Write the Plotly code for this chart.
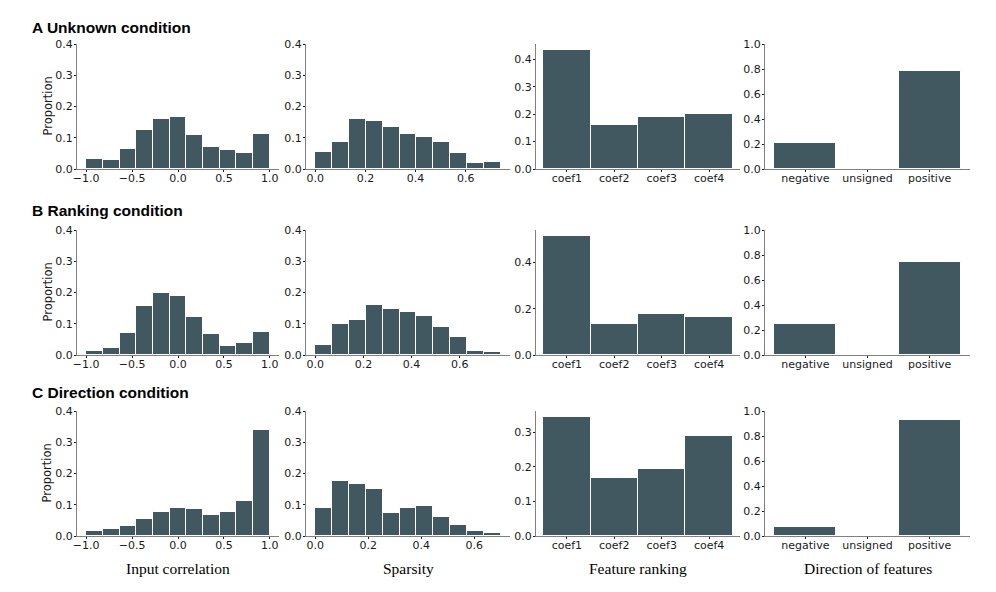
import numpy as np
import plotly.graph_objects as go

# ---------------- data ----------------
row_titles = ["A Unknown condition", "B Ranking condition", "C Direction condition"]
col_xlabels = ["Input correlation", "Sparsity", "Feature ranking", "Direction of features"]

corr_range = (-1.0, 1.0)
corr_A = [0.032, 0.028, 0.064, 0.126, 0.160, 0.168, 0.109, 0.072, 0.060, 0.051, 0.112]
corr_B = [0.013, 0.021, 0.071, 0.157, 0.200, 0.189, 0.123, 0.067, 0.029, 0.037, 0.075]
corr_C = [0.016, 0.023, 0.033, 0.053, 0.078, 0.090, 0.085, 0.067, 0.078, 0.111, 0.339]

spars_range_A = (0.0, 0.74)
spars_range_B = (0.0, 0.77)
spars_range_C = (0.0, 0.70)
spars_A = [0.053, 0.087, 0.161, 0.154, 0.134, 0.113, 0.101, 0.086, 0.051, 0.018, 0.023]
spars_B = [0.031, 0.099, 0.111, 0.160, 0.147, 0.139, 0.124, 0.089, 0.059, 0.014, 0.011]
spars_C = [0.091, 0.177, 0.168, 0.151, 0.075, 0.090, 0.095, 0.062, 0.034, 0.017, 0.009]

coef_labels = ["coef1", "coef2", "coef3", "coef4"]
rank_A = [0.435, 0.162, 0.190, 0.202]
rank_B = [0.515, 0.133, 0.178, 0.163]
rank_C = [0.344, 0.169, 0.195, 0.288]

dir_labels = ["negative", "unsigned", "positive"]
dir_A = [0.205, 0.0, 0.787]
dir_B = [0.251, 0.0, 0.741]
dir_C = [0.070, 0.0, 0.928]

corr_ticks = [-1.0, -0.5, 0.0, 0.5, 1.0]
spars_ticks = [0.0, 0.2, 0.4, 0.6]
hist_yticks = [0.0, 0.1, 0.2, 0.3, 0.4]
dir_yticks = [0.0, 0.2, 0.4, 0.6, 0.8, 1.0]
rank_yticks = [[0.0, 0.1, 0.2, 0.3, 0.4], [0.0, 0.2, 0.4], [0.0, 0.1, 0.2, 0.3]]

# ---------------- style / layout ----------------
W, H = 996, 592
BAR = "#415861"
AX = "#808080"
TXT = "#1a1a1a"
TICKFONT = dict(family="DejaVu Sans", size=11, color=TXT)

col_px = [(77, 279), (306, 510), (536, 740), (765, 970)]
row_px = [(44, 169), (230, 355), (411, 536)]
title_y = [28, 211, 392]
xlabel_y = 568

fig = go.Figure()
layout = dict(width=W, height=H, margin=dict(l=0, r=0, t=0, b=0),
              paper_bgcolor="white", plot_bgcolor="white", showlegend=False,
              bargap=0, annotations=[])

corr_sets = [corr_A, corr_B, corr_C]
spars_sets = [spars_A, spars_B, spars_C]
spars_ranges = [spars_range_A, spars_range_B, spars_range_C]
rank_sets = [rank_A, rank_B, rank_C]
dir_sets = [dir_A, dir_B, dir_C]


def hist_bar(vals, lo, hi, k):
    edges = np.linspace(lo, hi, len(vals) + 1)
    centers = (edges[:-1] + edges[1:]) / 2
    w = edges[1] - edges[0]
    return go.Bar(x=centers, y=vals, width=w, marker=dict(color=BAR, line=dict(color="white", width=1)),
                  xaxis=f"x{k}", yaxis=f"y{k}", hoverinfo="skip")


def cat_bar(vals, k):
    return go.Bar(x=list(range(len(vals))), y=vals, width=1.0,
                  marker=dict(color=BAR, line=dict(color="white", width=1)),
                  xaxis=f"x{k}", yaxis=f"y{k}", hoverinfo="skip")


def axis_common(is_x):
    return dict(showline=True, linecolor=AX, linewidth=1, ticks="outside", ticklen=2,
                tickwidth=0.8, tickcolor=TXT, tickfont=TICKFONT, showgrid=False, zeroline=False,
                fixedrange=True, automargin=False, ticklabelstandoff=(-3 if is_x else -1))


for r in range(3):
    y0, y1 = row_px[r]
    ydom = [1 - y1 / H, 1 - y0 / H]
    for c in range(4):
        k = r * 4 + c + 1
        x0, x1 = col_px[c]
        xdom = [x0 / W, x1 / W]
        xa = axis_common(True)
        ya = axis_common(False)
        xa.update(domain=xdom, anchor=f"y{k}")
        ya.update(domain=ydom, anchor=f"x{k}")
        if c == 0:
            lo, hi = corr_range
            fig.add_trace(hist_bar(corr_sets[r], lo, hi, k))
            m = 0.05 * (hi - lo)
            xa.update(range=[lo - m, hi + m], tickvals=corr_ticks, tickformat=".1f")
            ya.update(range=[0, 0.4], tickvals=hist_yticks, tickformat=".1f")
        elif c == 1:
            lo, hi = spars_ranges[r]
            fig.add_trace(hist_bar(spars_sets[r], lo, hi, k))
            m = 0.05 * (hi - lo)
            xa.update(range=[lo - m, hi + m], tickvals=spars_ticks, tickformat=".1f")
            ya.update(range=[0, 0.4], tickvals=hist_yticks, tickformat=".1f")
        elif c == 2:
            vals = rank_sets[r]
            fig.add_trace(cat_bar(vals, k))
            n = len(vals)
            xa.update(range=[-0.65, n - 0.35], tickvals=list(range(n)), ticktext=coef_labels)
            ya.update(range=[0, max(vals) * 1.05], tickvals=rank_yticks[r], tickformat=".1f")
        else:
            vals = dir_sets[r]
            fig.add_trace(cat_bar(vals, k))
            n = len(vals)
            xa.update(range=[-0.65, n - 0.35], tickvals=list(range(n)), ticktext=dir_labels)
            ya.update(range=[0, 1.0], tickvals=dir_yticks, tickformat=".1f")
        layout[f"xaxis{k}"] = xa
        layout[f"yaxis{k}"] = ya

    layout["annotations"].append(dict(text=f"<b>{row_titles[r]}</b>", x=30 / W, y=1 - title_y[r] / H,
                                      xref="paper", yref="paper", xanchor="left", yanchor="middle",
                                      showarrow=False,
                                      font=dict(family="Liberation Sans", size=15.5, color="black")))
    layout["annotations"].append(dict(text="Proportion", x=47 / W, y=1 - (y0 + y1) / 2 / H,
                                      xref="paper", yref="paper", xanchor="center", yanchor="middle",
                                      textangle=-90, showarrow=False,
                                      font=dict(family="DejaVu Sans", size=11.5, color=TXT)))

for c in range(4):
    x0, x1 = col_px[c]
    layout["annotations"].append(dict(text=col_xlabels[c], x=(x0 + x1) / 2 / W, y=1 - xlabel_y / H,
                                      xref="paper", yref="paper", xanchor="center", yanchor="middle",
                                      showarrow=False,
                                      font=dict(family="Liberation Serif", size=15.5, color="black")))

fig.update_layout(**layout)
fig.write_html("out.html", config={"displayModeBar": False},
               post_script="document.body.style.margin='0px';document.body.style.overflow='hidden';")
